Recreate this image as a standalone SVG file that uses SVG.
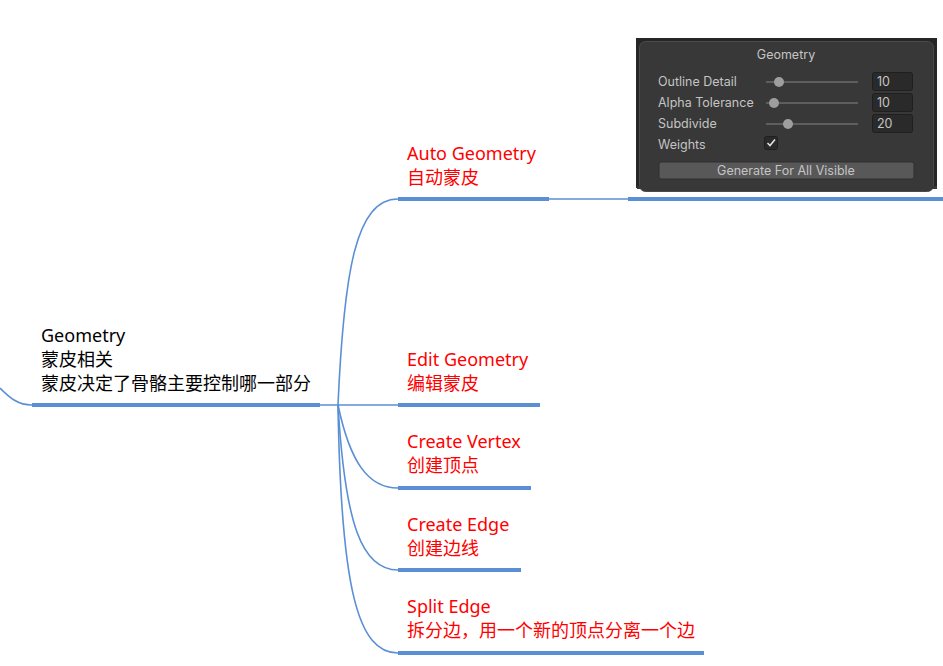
<svg xmlns="http://www.w3.org/2000/svg" width="943" height="666" viewBox="0 0 943 666">
<style>
.t{font-family:"Microsoft YaHei","Noto Sans","Noto Sans CJK SC",sans-serif;font-size:18px}
.r{fill:#ff0000}
.k{fill:#000}
.u{stroke:#5a8fd6;stroke-width:4;fill:none}
.c{stroke:#5a8fd6;stroke-width:1.6;fill:none}
.p{font-family:Inter,Roboto,"Liberation Sans",sans-serif;font-size:12.5px;fill:#c4c4c4}
.f{fill:#2a2a2a;stroke:#1f1f1f;stroke-width:1}
.tr{stroke:#5e5e5e;stroke-width:2}
.kn{fill:#9e9e9e}
</style>
<rect width="943" height="666" fill="#fff"/>
<g id="connectors">
<path class="c" d="M0,388 C10,398 18,405 32,405"/>
<path class="c" d="M320,405 L398,405"/>
<path class="c" d="M338,405 C344,270 356,199 398,199"/>
<path class="c" d="M338,405 C350,462 368,488 398,488"/>
<path class="c" d="M338,405 C345,525 362,570 398,570"/>
<path class="c" d="M338,405 C341,590 358,653 398,653"/>
<path class="c" d="M549,199 L628,199"/>
</g>
<g id="node-geometry">
<text class="t k" x="41" y="342">Geometry</text>
<text class="t k" x="41" y="366">蒙皮相关</text>
<text class="t k" x="41" y="390">蒙皮决定了骨骼主要控制哪一部分</text>
<line class="u" x1="32" y1="405" x2="320" y2="405"/>
</g>
<g id="node-auto">
<text class="t r" x="407" y="160">Auto Geometry</text>
<text class="t r" x="407" y="184">自动蒙皮</text>
<line class="u" x1="398" y1="199" x2="549" y2="199"/>
</g>
<g id="node-panel">
<rect x="636" y="38" width="301" height="150" fill="#262626"/>
<rect x="639.5" y="41.5" width="294" height="150" rx="6" fill="#383838" stroke="#4a4a4a"/>
<rect x="637" y="186" width="300" height="3" fill="#383838"/>
<text class="p" x="786" y="59" text-anchor="middle">Geometry</text>
<text class="p" x="658" y="86">Outline Detail</text>
<text class="p" x="658" y="107">Alpha Tolerance</text>
<text class="p" x="658" y="128">Subdivide</text>
<text class="p" x="658" y="149">Weights</text>
<line class="tr" x1="766" y1="82" x2="858" y2="82"/>
<line class="tr" x1="766" y1="103" x2="858" y2="103"/>
<line class="tr" x1="766" y1="124" x2="858" y2="124"/>
<circle class="kn" cx="779" cy="82" r="5"/>
<circle class="kn" cx="774" cy="103" r="5"/>
<circle class="kn" cx="788" cy="124" r="5"/>
<rect class="f" x="872.5" y="72.5" width="40" height="18" rx="2"/>
<rect class="f" x="872.5" y="93.5" width="40" height="18" rx="2"/>
<rect class="f" x="872.5" y="114.5" width="40" height="18" rx="2"/>
<text class="p" x="877" y="86" fill="#d8d8d8">10</text>
<text class="p" x="877" y="107" fill="#d8d8d8">10</text>
<text class="p" x="877" y="128" fill="#d8d8d8">20</text>
<rect class="f" x="764.5" y="136.5" width="13" height="13" rx="2"/>
<path d="M767.5,143 L770,145.5 L775,139.5" stroke="#e0e0e0" stroke-width="1.6" fill="none"/>
<rect x="659" y="162" width="255" height="17" rx="2" fill="#585858" stroke="#2e2e2e"/>
<text class="p" x="786" y="175" text-anchor="middle">Generate For All Visible</text>
<line class="u" x1="628" y1="199" x2="943" y2="199"/>
</g>
<g id="node-edit">
<text class="t r" x="407" y="366">Edit Geometry</text>
<text class="t r" x="407" y="390">编辑蒙皮</text>
<line class="u" x1="398" y1="405" x2="540" y2="405"/>
</g>
<g id="node-vertex">
<text class="t r" x="407" y="448">Create Vertex</text>
<text class="t r" x="407" y="472">创建顶点</text>
<line class="u" x1="398" y1="488" x2="531" y2="488"/>
</g>
<g id="node-edge">
<text class="t r" x="407" y="531">Create Edge</text>
<text class="t r" x="407" y="555">创建边线</text>
<line class="u" x1="398" y1="570" x2="521" y2="570"/>
</g>
<g id="node-split">
<text class="t r" x="407" y="613">Split Edge</text>
<text class="t r" x="407" y="637">拆分边，用一个新的顶点分离一个边</text>
<line class="u" x1="398" y1="653" x2="704" y2="653"/>
</g>
</svg>
